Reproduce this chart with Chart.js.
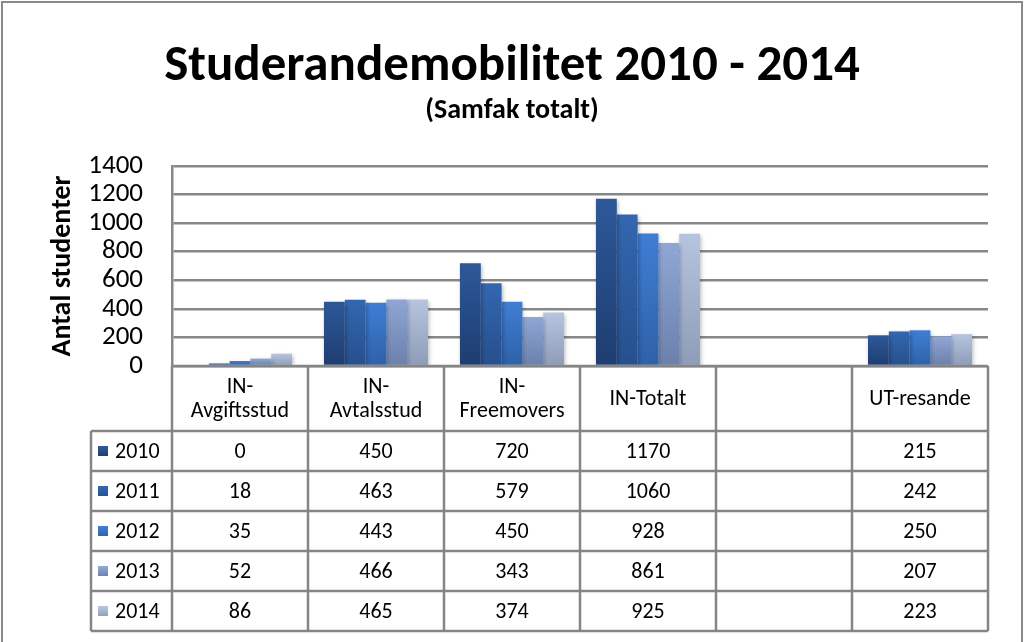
<!DOCTYPE html>
<html>
<head>
<meta charset="utf-8">
<script src="https://cdn.jsdelivr.net/npm/chart.js@4/dist/chart.umd.min.js"></script>
<style>
  html, body { margin: 0; padding: 0; background: #fff; }
  #wrap { position: relative; width: 1024px; height: 642px; }
</style>
</head>
<body>
<div id="wrap"><canvas id="c"></canvas></div>
<script>
// ---- Data ----
const categories = [['IN-', 'Avgiftsstud'], ['IN-', 'Avtalsstud'], ['IN-', 'Freemovers'], 'IN-Totalt', '', 'UT-resande'];
const years = ['2010', '2011', '2012', '2013', '2014'];
const values2010 = [0, 450, 720, 1170, null, 215];
const values2011 = [18, 463, 579, 1060, null, 242];
const values2012 = [35, 443, 450, 928, null, 250];
const values2013 = [52, 466, 343, 861, null, 207];
const values2014 = [86, 465, 374, 925, null, 223];
const yTicks = [0, 200, 400, 600, 800, 1000, 1200, 1400];

const seriesValues = [values2010, values2011, values2012, values2013, values2014];
// top / bottom gradient colours per series
const seriesColors = [
  ['#2D5899', '#1E3D70'],
  ['#3367B0', '#264F8C'],
  ['#3F7ED4', '#2E61A8'],
  ['#90A6D4', '#6B80AA'],
  ['#B6C4E0', '#8F9CB8']
];

const FONT = 'Carlito, Lato, "Open Sans", sans-serif';

function barGradient(ctx, i) {
  const chart = ctx.chart;
  const area = chart.chartArea;
  const [top, bottom] = seriesColors[i];
  if (!area || ctx.raw == null) return top;
  const y = chart.scales.y;
  const yTop = y.getPixelForValue(ctx.raw);
  const yBot = y.getPixelForValue(0);
  if (!(yBot - yTop > 1)) return top;
  const g = chart.ctx.createLinearGradient(0, yTop, 0, yBot);
  g.addColorStop(0, top);
  g.addColorStop(1, bottom);
  return g;
}

const datasets = years.map((yr, i) => ({
  label: yr,
  data: seriesValues[i],
  backgroundColor: (ctx) => barGradient(ctx, i),
  borderWidth: 0,
  categoryPercentage: 0.765,
  barPercentage: 1.0
}));

const frame = {
  id: 'frame',
  beforeDraw(chart) {
    const { ctx, width, height } = chart;
    ctx.save();
    ctx.fillStyle = '#fff';
    ctx.fillRect(0, 0, width, height);
    ctx.strokeStyle = '#8a8a8a';
    ctx.lineWidth = 2;
    ctx.strokeRect(2, 2, width - 4, height + 10);
    ctx.restore();
  }
};

const shadow = {
  id: 'shadow',
  beforeDatasetsDraw(chart) {
    const ctx = chart.ctx;
    ctx.save();
    ctx.shadowColor = 'rgba(0,0,0,0.28)';
    ctx.shadowBlur = 4;
    ctx.shadowOffsetX = 1;
    ctx.shadowOffsetY = 2;
  },
  afterDatasetsDraw(chart) {
    chart.ctx.restore();
  }
};

const dataTable = {
  id: 'dataTable',
  afterDraw(chart) {
    const { ctx, chartArea: a, scales: { x } } = chart;
    const n = categories.length;
    const colW = (a.right - a.left) / n;
    const headTop = a.bottom;
    const headBottom = a.bottom + 65;
    const rowH = 40;
    const tableBottom = headBottom + rowH * years.length;
    const legendLeft = 91;

    ctx.save();
    ctx.strokeStyle = '#858585';
    ctx.lineWidth = 2.5;
    const line = (x1, y1, x2, y2) => { ctx.beginPath(); ctx.moveTo(x1, y1); ctx.lineTo(x2, y2); ctx.stroke(); };
    line(a.left, headTop, a.right, headTop);
    for (let r = 0; r <= years.length; r++) {
      const yy = headBottom + r * rowH;
      line(legendLeft, yy, a.right, yy);
    }
    for (let i = 0; i <= n; i++) {
      const xv = a.left + i * colW;
      line(xv, headTop, xv, tableBottom);
    }
    line(legendLeft, headBottom, legendLeft, tableBottom);

    // header labels
    ctx.fillStyle = '#000';
    ctx.textAlign = 'center';
    ctx.textBaseline = 'middle';
    ctx.font = '22px ' + FONT;
    categories.forEach((cat, i) => {
      const cx = x.getPixelForValue(i);
      const lines = Array.isArray(cat) ? cat : [cat];
      const mid = (headTop + headBottom) / 2 + 1;
      const lh = 24;
      lines.forEach((t, k) => {
        ctx.fillText(t, cx, mid + (k - (lines.length - 1) / 2) * lh);
      });
    });

    // rows
    years.forEach((yr, r) => {
      const cy = headBottom + r * rowH + rowH / 2 + 1;
      const [top, bottom] = seriesColors[r];
      const g = ctx.createLinearGradient(0, cy - 5, 0, cy + 5);
      g.addColorStop(0, top); g.addColorStop(1, bottom);
      ctx.fillStyle = g;
      ctx.fillRect(98, cy - 6, 10, 10);
      ctx.fillStyle = '#000';
      ctx.textAlign = 'left';
      ctx.font = '22px ' + FONT;
      ctx.fillText(yr, 115, cy);
      ctx.textAlign = 'center';
      ctx.font = '22px ' + FONT;
      seriesValues[r].forEach((v, i) => {
        if (v == null) return;
        ctx.fillText(String(v), x.getPixelForValue(i), cy);
      });
    });
    ctx.restore();
  }
};

new Chart(document.getElementById('c'), {
  type: 'bar',
  data: { labels: categories, datasets },
  plugins: [frame, shadow, dataTable],
  options: {
    responsive: true,
    maintainAspectRatio: false,
    animation: false,
    layout: { padding: { left: 36, right: 36, top: 0, bottom: 0 } },
    plugins: {
      legend: { display: false },
      tooltip: { enabled: false },
      title: {
        display: true,
        text: 'Studerandemobilitet 2010 - 2014',
        color: '#000',
        font: { family: FONT, size: 51, weight: 'bold', lineHeight: 1 },
        padding: { top: 42, bottom: 0 }
      },
      subtitle: {
        display: true,
        text: '(Samfak totalt)',
        color: '#000',
        font: { family: FONT, size: 28, weight: 'bold', lineHeight: 1 },
        padding: { top: 4, bottom: 41 }
      }
    },
    scales: {
      x: {
        type: 'category',
        ticks: { display: false },
        grid: { display: false, drawTicks: false },
        border: { display: false },
        afterFit(scale) { scale.height = 276; }
      },
      y: {
        min: yTicks[0],
        max: yTicks[yTicks.length - 1],
        ticks: {
          stepSize: yTicks[1] - yTicks[0],
          autoSkip: false,
          callback: (v) => String(v),
          color: '#000',
          font: { family: FONT, size: 27 },
          padding: 29
        },
        grid: { color: '#878787', lineWidth: 2.5, drawTicks: false },
        border: { display: true, color: '#878787', width: 2.5 },
        title: {
          display: true,
          text: 'Antal studenter',
          color: '#000',
          font: { family: FONT, size: 28, weight: 'bold' },
          padding: { top: 10, bottom: 0 }
        },
        afterFit(scale) { scale.width = 136; }
      }
    }
  }
});
</script>
</body>
</html>
